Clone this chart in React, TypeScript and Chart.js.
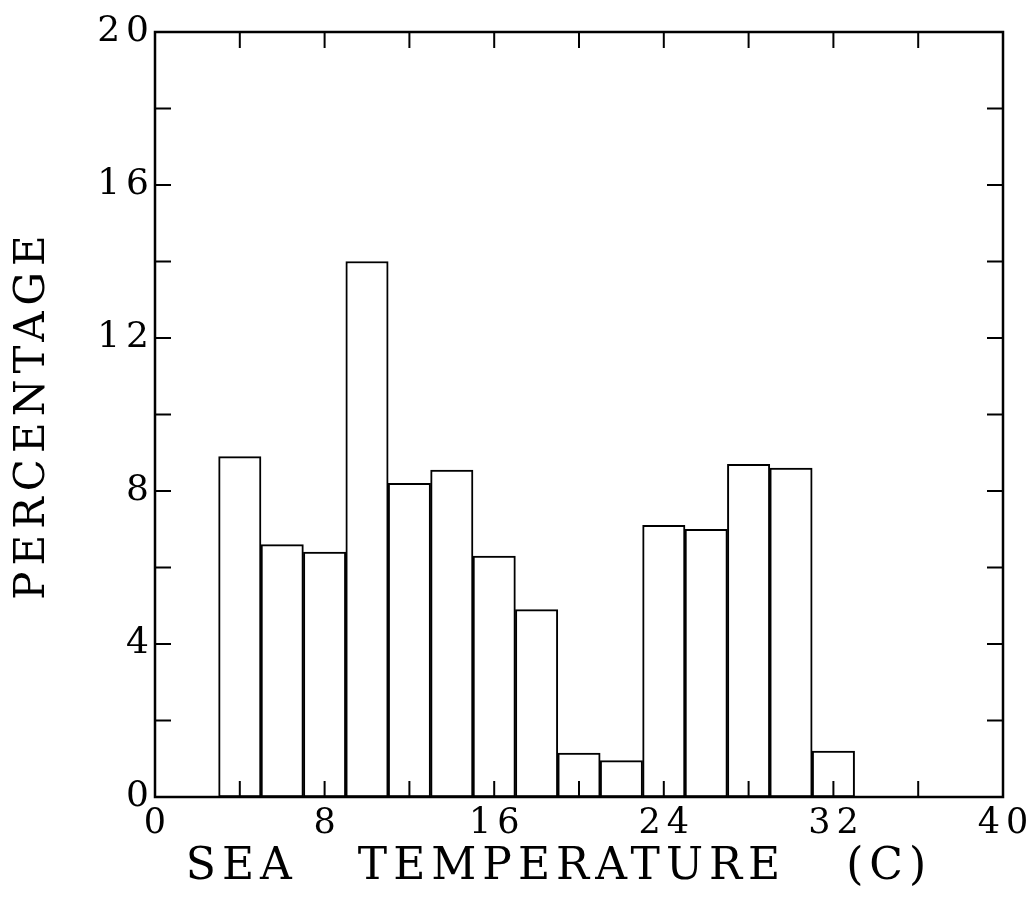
import React, { useEffect, useRef } from "react";
import { Chart, registerables } from "chart.js";

Chart.register(...registerables);

// Histogram bins (centres of 2-degree bins) and their percentages
const binCenters = [4, 6, 8, 10, 12, 14, 16, 18, 20, 22, 24, 26, 28, 30, 32];
const percentages = [8.9, 6.6, 6.4, 14.0, 8.2, 8.55, 6.3, 4.9, 1.15, 0.95, 7.1, 7.0, 8.7, 8.6, 1.2];
const xLabelValues = [0, 8, 16, 24, 32, 40];
const yLabelValues = [0, 4, 8, 12, 16, 20];
const xTitle = "SEA   TEMPERATURE   (C)  ";
const yTitle = "PERCENTAGE";

const FONT = "'DejaVu Serif', 'Liberation Serif', serif";
const SPACING = "6px";

const framePlugin = {
  id: "frame",
  beforeLayout(chart: any) {
    chart.ctx.letterSpacing = SPACING;
  },
  beforeDraw(chart: any) {
    chart.ctx.letterSpacing = SPACING;
  },
  afterDraw(chart: any) {
    const { ctx, chartArea, scales } = chart;
    const { left, right, top, bottom } = chartArea;
    const xs = scales.x;
    const ys = scales.y;
    ctx.save();
    ctx.strokeStyle = "#000";
    ctx.lineWidth = 2.5;
    ctx.strokeRect(left, top, right - left, bottom - top);
    ctx.lineWidth = 2;
    const L = 16;
    const line = (x1: number, y1: number, x2: number, y2: number) => {
      ctx.beginPath();
      ctx.moveTo(x1, y1);
      ctx.lineTo(x2, y2);
      ctx.stroke();
    };
    xs.ticks.forEach((t: any) => {
      const px = xs.getPixelForValue(t.value);
      if (px <= left + 1 || px >= right - 1) return;
      line(px, bottom, px, bottom - L);
      line(px, top, px, top + L);
    });
    ys.ticks.forEach((t: any) => {
      const py = ys.getPixelForValue(t.value);
      if (py <= top + 1 || py >= bottom - 1) return;
      line(left, py, left + L, py);
      line(right, py, right - L, py);
    });
    ctx.restore();
  },
};

export default function App() {
  const ref = useRef<HTMLCanvasElement | null>(null);

  useEffect(() => {
    document.body.style.margin = "0";
    const canvas = ref.current;
    if (!canvas) return;
    const chart = new Chart(canvas, {
      type: "bar",
      data: {
        datasets: [
          {
            data: binCenters.map((c, i) => ({ x: c, y: percentages[i] })),
            backgroundColor: "#ffffff",
            borderColor: "#000000",
            borderWidth: 2,
            borderSkipped: false,
            barPercentage: 1,
            categoryPercentage: 1,
          },
        ],
      },
      options: {
        animation: false,
        responsive: false,
        maintainAspectRatio: false,
        layout: { padding: { top: 32, right: 30, left: 0, bottom: 0 } },
        plugins: {
          legend: { display: false },
          tooltip: { enabled: false },
        },
        scales: {
          x: {
            type: "linear",
            min: 0,
            max: 40,
            offset: false,
            grid: { display: false, drawTicks: false },
            border: { display: false },
            ticks: {
              stepSize: 4,
              padding: 6,
              labelOffset: 3,
              color: "#000",
              font: { family: FONT, size: 35 },
              maxRotation: 0,
              autoSkip: false,
              callback: (v: any) => (xLabelValues.includes(Number(v)) ? String(v) : ""),
            },
            title: {
              display: true,
              text: xTitle,
              color: "#000",
              font: { family: FONT, size: 44 },
              padding: { top: 0, bottom: 13 },
            },
            afterFit: (scale: any) => {
              scale.height = 110;
              scale.paddingRight = 0;
              scale.paddingLeft = 0;
            },
          },
          y: {
            type: "linear",
            min: 0,
            max: 20,
            grid: { display: false, drawTicks: false },
            border: { display: false },
            ticks: {
              stepSize: 2,
              padding: 0,
              color: "#000",
              font: { family: FONT, size: 36 },
              autoSkip: false,
              callback: (v: any) => (yLabelValues.includes(Number(v)) ? String(v) : ""),
            },
            title: {
              display: true,
              text: yTitle,
              color: "#000",
              font: { family: FONT, size: 42 },
              padding: { top: 8, bottom: 0 },
            },
            afterFit: (scale: any) => {
              scale.width = 155;
            },
          },
        },
      },
      plugins: [framePlugin],
    });
    return () => chart.destroy();
  }, []);

  return (
    <div style={{ position: "absolute", left: 0, top: 0, width: 1033, height: 907, background: "#fff" }}>
      <canvas ref={ref} width={1033} height={907} />
    </div>
  );
}
